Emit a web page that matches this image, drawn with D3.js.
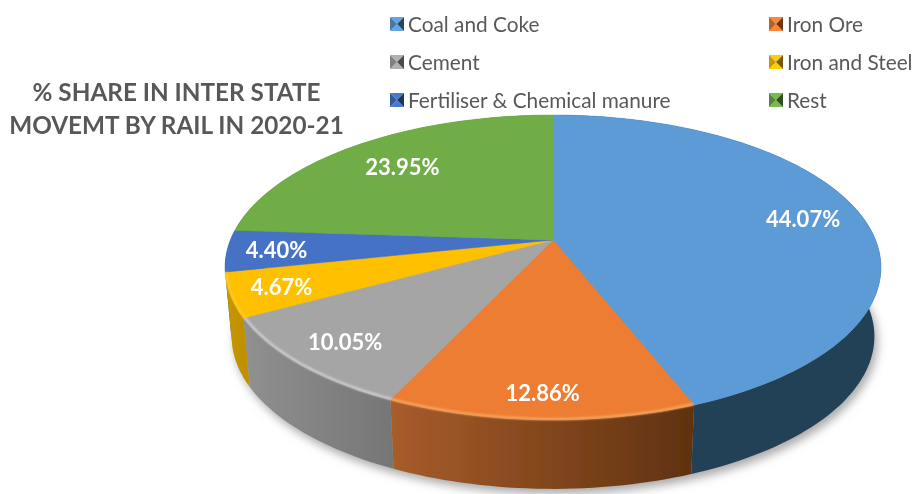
<!DOCTYPE html>
<html>
<head>
<meta charset="utf-8">
<script src="https://cdnjs.cloudflare.com/ajax/libs/d3/7.8.5/d3.min.js"></script>
<style>
  html, body { margin: 0; padding: 0; background: #fff; }
  text { font-family: Lato, "Open Sans", sans-serif; }
</style>
</head>
<body>
<div id="chart"></div>
<script>
var categories = ["Coal and Coke", "Iron Ore", "Cement", "Iron and Steel", "Fertiliser & Chemical manure", "Rest"]
var shares = [44.07, 12.86, 10.05, 4.67, 4.40, 23.95]
var titleLines = ["% SHARE IN INTER STATE", "MOVEMT BY RAIL IN 2020-21"]
var topColours = ["#5B9BD5", "#ED7D31", "#A5A5A5", "#FFC000", "#4472C4", "#70AD47"]
var wallColours = [["#233f57", "#233f57"], ["#a85c2b", "#5f3210"], ["#909090", "#767676"], ["#c99600", "#bf9000"], ["#2f4f88", "#2f4f88"], ["#4e7a32", "#4e7a32"]]
var rimColours = [null, "#f8ad6c", "#d8d8d8", "#ffcf33", null, null]
// how far out along the slice each value label sits
var labelFractions = [0.81, 0.87, 0.84, 0.85, 0.85, 0.75]

var width = 914
var height = 494

var dimensions = {
  cx: 553,
  cy: 240,
  radius: 322.6,
  tilt: 147.5,
  perspective: 0.18,
  depth: 69,
  baseShrink: 0.98,
}

// circle on the table -> screen, with a bit of perspective (front is bigger)
function project(angle, fraction, isBase) {
  var u = Math.sin(angle) * fraction
  var v = -Math.cos(angle) * fraction
  var s = 1 / (1 - dimensions.perspective * v)
  var shrink = isBase ? dimensions.baseShrink : 1
  return [
    dimensions.cx + dimensions.radius * u * s * shrink,
    dimensions.cy + dimensions.tilt * v * s + (isBase ? dimensions.depth : 0)
  ]
}

function arcAngles(d) {
  var steps = Math.max(8, Math.ceil((d.endAngle - d.startAngle) * 40))
  return d3.range(steps + 1).map(i => d.startAngle + (d.endAngle - d.startAngle) * i / steps)
}

var line = d3.line()
var pie = d3.pie().sort(null).value(d => d)
var slices = pie(shares)

var wrapper = d3.select("#chart")
  .append("svg")
  .attr("width", width)
  .attr("height", height)
  .style("display", "block")

var defs = wrapper.append("defs")

defs.append("filter").attr("id", "shadowBlur")
  .attr("x", "-10%").attr("y", "-10%").attr("width", "120%").attr("height", "120%")
  .append("feGaussianBlur").attr("stdDeviation", 5)
defs.append("filter").attr("id", "rimBlur")
  .attr("filterUnits", "userSpaceOnUse")
  .attr("x", 0).attr("y", 0).attr("width", width).attr("height", height)
  .append("feGaussianBlur").attr("stdDeviation", 1.1)
defs.append("filter").attr("id", "softEdge")
  .attr("filterUnits", "userSpaceOnUse")
  .attr("x", 0).attr("y", 0).attr("width", width).attr("height", height)
  .append("feGaussianBlur").attr("stdDeviation", 0.6)

slices.forEach((d, i) => {
  var a = project(d.startAngle, 1, false)[0]
  var b = project(d.endAngle, 1, false)[0]
  var grad = defs.append("linearGradient")
    .attr("id", "wall" + i)
    .attr("gradientUnits", "userSpaceOnUse")
    .attr("x1", Math.min(a, b)).attr("x2", Math.max(a, b))
    .attr("y1", 0).attr("y2", 0)
  grad.append("stop").attr("offset", 0).attr("stop-color", wallColours[i][0])
  grad.append("stop").attr("offset", 1).attr("stop-color", wallColours[i][1])
})

var fullCircle = d3.range(0, 2 * Math.PI + 0.02, 0.02)

var bounds = wrapper.append("g").attr("filter", "url(#softEdge)")

// soft shadow under the base
bounds.append("path")
  .attr("d", line(fullCircle.map(a => project(a, 1, true))) + "Z")
  .attr("transform", "translate(3,5)")
  .attr("fill", "#a9a9a9")
  .attr("filter", "url(#shadowBlur)")

// side walls, back ones first
var wallOrder = slices.map((d, i) => i)
  .sort((a, b) => {
    var mid = d => (d.startAngle + d.endAngle) / 2
    return Math.cos(mid(slices[b])) - Math.cos(mid(slices[a]))
  })

bounds.selectAll(".wall")
  .data(wallOrder)
  .enter()
  .append("path")
  .attr("class", "wall")
  .attr("fill", i => "url(#wall" + i + ")")
  .attr("d", i => {
    var angles = arcAngles(slices[i])
    var upper = angles.map(a => project(a, 1, false))
    var lower = angles.slice().reverse().map(a => project(a, 1, true))
    return line(upper.concat(lower)) + "Z"
  })

// top faces
bounds.selectAll(".slice")
  .data(slices)
  .enter()
  .append("path")
  .attr("class", "slice")
  .attr("fill", (d, i) => topColours[i])
  .attr("stroke", (d, i) => topColours[i])
  .attr("stroke-width", 0.5)
  .attr("d", d => line([[dimensions.cx, dimensions.cy]].concat(arcAngles(d).map(a => project(a, 1, false)))) + "Z")

// bevel highlight sitting right on the front rim
bounds.append("g")
  .selectAll(".rim")
  .data(slices.filter((d, i) => rimColours[i]))
  .enter()
  .append("path")
  .attr("class", "rim")
  .attr("fill", "none")
  .attr("stroke", d => rimColours[d.index])
  .attr("stroke-width", 2)
  .attr("filter", "url(#rimBlur)")
  .attr("d", d => line(arcAngles(d).map(a => project(a, 0.996, false))))

// value labels
bounds.selectAll(".value")
  .data(slices)
  .enter()
  .append("text")
  .attr("class", "value")
  .attr("x", (d, i) => project((d.startAngle + d.endAngle) / 2, labelFractions[i], false)[0])
  .attr("y", (d, i) => project((d.startAngle + d.endAngle) / 2, labelFractions[i], false)[1])
  .attr("text-anchor", "middle")
  .attr("dominant-baseline", "central")
  .attr("fill", "#fff")
  .attr("font-size", 22)
  .attr("font-weight", 700)
  .text(d => d.value.toFixed(2) + "%")

// title
bounds.selectAll(".title")
  .data(titleLines)
  .enter()
  .append("text")
  .attr("class", "title")
  .attr("x", 176.5)
  .attr("y", (d, i) => 101 + i * 32.5)
  .attr("text-anchor", "middle")
  .attr("fill", "#595959")
  .attr("font-size", 24.3)
  .attr("font-weight", 700)
  .text(d => d)

// legend, two columns, pyramid style keys
var legendX = d3.scalePoint().domain([0, 1]).range([390, 769])
var legendY = d3.scalePoint().domain([0, 1, 2]).range([24, 100])
var keySize = 14

var legend = bounds.selectAll(".legend")
  .data(categories)
  .enter()
  .append("g")
  .attr("class", "legend")
  .attr("transform", (d, i) => `translate(${legendX(i % 2)},${legendY(Math.floor(i / 2))})`)

function keyFacet(corners, tone) {
  legend.append("path")
    .attr("d", line(corners) + "Z")
    .attr("fill", (d, i) => tone(topColours[i]))
}

var h = keySize / 2
keyFacet([[0, -h], [keySize, -h], [h, 0]], c => d3.color(c).brighter(0.2))
keyFacet([[0, h], [keySize, h], [h, 0]], c => d3.color(c).brighter(0.2))
keyFacet([[0, -h], [0, h], [h, 0]], c => d3.color(c).darker(0.7))
keyFacet([[keySize, -h], [keySize, h], [h, 0]], c => d3.color(c).darker(2.2))

legend.append("text")
  .attr("x", 18)
  .attr("y", -0.5)
  .attr("dominant-baseline", "central")
  .attr("fill", "#595959")
  .attr("font-size", 20.8)
  .text(d => d)
</script>
</body>
</html>
